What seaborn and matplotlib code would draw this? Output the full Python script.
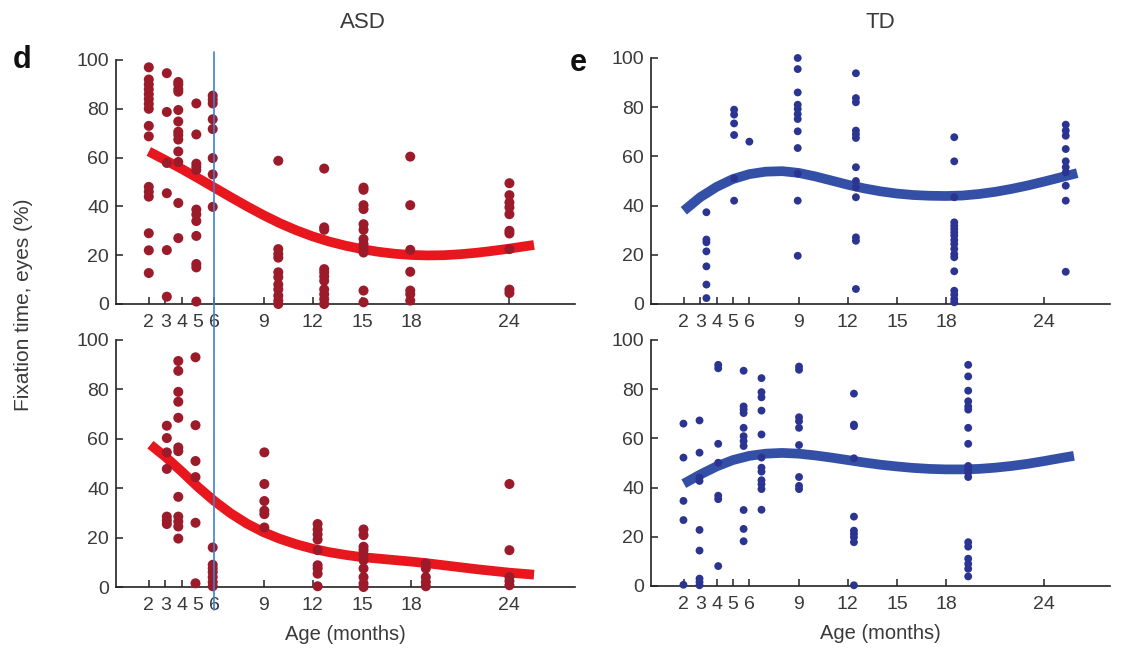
import numpy as np
import pandas as pd
import matplotlib
matplotlib.use("Agg")
import matplotlib.pyplot as plt
import seaborn as sns

# ---------------- data ----------------
xticks = [2, 3, 4, 5, 6, 9, 12, 15, 18, 24]

# ASD, top panel (d, upper)
asd_top_ages = [2.0, 3.1, 3.8, 4.9, 5.9, 9.9, 12.7, 15.1, 17.95, 24.0]
asd_top_vals = [
    [97, 92, 90, 88, 86, 84, 82, 80, 73, 68.7, 48, 46, 44, 29, 22, 12.7],
    [94.6, 78.7, 57.8, 45.4, 22.1, 3.0],
    [91, 90, 88, 87, 79.5, 74.8, 70.6, 69.3, 67.4, 62.5, 58.2, 41.4, 27],
    [82.2, 69.5, 57.5, 56.2, 54.9, 38.7, 36.7, 34, 27.9, 16.4, 15, 1],
    [85.4, 83.8, 82.2, 75.7, 71.7, 59.8, 53.1, 39.8],
    [58.7, 22.5, 20.5, 19, 13, 11, 8, 6, 3.4, 1.4, 0],
    [55.5, 31.4, 30.4, 14.3, 13, 11.3, 9.5, 6, 4, 2, 0],
    [47.7, 46.8, 40.5, 38.9, 32.7, 30.4, 26.6, 24.6, 22.8, 21.1, 5.5, 0.7],
    [60.4, 40.5, 22.2, 13.2, 5.5, 4, 1.4],
    [49.5, 44.6, 41.6, 39.6, 36.8, 30, 28.9, 22.5, 5.9, 4.5],
]
asd_top_curve_age = [2, 3, 4, 5, 6, 7, 8, 9, 10, 11, 12, 13, 14, 15, 16, 17,
                     18, 19, 20, 21, 22, 23, 24, 25.5]
asd_top_curve_val = [62.5, 59, 55.4, 51.6, 47.7, 43.8, 40, 36.4, 33.1, 30.2,
                     27.7, 25.6, 23.9, 22.5, 21.4, 20.6, 20.1, 19.9, 20.0,
                     20.4, 21.0, 21.8, 22.7, 24.2]

# ASD, bottom panel
asd_bot_ages = [3.1, 3.8, 4.85, 5.9, 9.05, 12.3, 15.1, 18.9, 24.0]
asd_bot_vals = [
    [65.3, 60.3, 54.5, 47.8, 28.5, 27, 25.5],
    [91.5, 87.5, 79, 75, 68.5, 56.5, 55, 36.5, 28.5, 26.5, 24.5, 19.6],
    [93, 65.5, 51, 44.5, 26, 1.5],
    [16, 9, 7.5, 6, 4, 2, 0.3],
    [54.5, 41.7, 34.8, 30.9, 29.5, 24.1],
    [25.5, 23.3, 21.3, 19.2, 14.9, 8.8, 7.5, 5.4, 0.3],
    [23.3, 21, 16.3, 14.9, 12.9, 10.8, 7.5, 4, 1.4, 0],
    [9.5, 7.5, 4, 2, 0.3],
    [41.7, 14.9, 4, 2.4, 0.7],
]
asd_bot_curve_age = [2.1, 3, 4, 5, 6, 7, 8, 9, 10, 11, 12, 13, 14, 15, 16, 17,
                     18, 19, 20, 21, 22, 23, 24, 25.5]
asd_bot_curve_val = [57.6, 52.8, 46.8, 40.5, 34.8, 29.8, 25.6, 22.2, 19.5,
                     17.3, 15.5, 14.1, 13.0, 12.1, 11.5, 10.9, 10.3, 9.6, 8.8,
                     8.0, 7.2, 6.5, 5.8, 5.0]

# TD, top panel (e, upper)
td_top_ages = [3.38, 5.07, 6.0, 8.95, 12.5, 18.5, 25.3]
td_top_vals = [
    [37.3, 26.2, 25.1, 21.4, 15.3, 7.9, 2.4],
    [79, 77, 73.4, 68.7, 51, 42],
    [66],
    [100, 95.5, 86, 81, 79.3, 77.2, 75.2, 70.2, 63.4, 53, 42, 19.6],
    [93.8, 83.7, 82, 70.5, 69, 67.5, 55.6, 50, 47.4, 43.4, 27.1, 25.7, 6.1],
    [67.8, 58, 43.4, 33.2, 31.8, 30.5, 29.1, 27.8, 26, 24.4, 22.4, 20.3, 19,
     13.3, 5.4, 3.8, 2, 0.7],
    [72.9, 70.5, 68.4, 63, 58, 55.6, 53.5, 48.1, 42, 13.1],
]
td_top_curve_age = [2, 3, 4, 5, 6, 7, 8, 9, 10, 11, 12, 13, 14, 15, 16, 17,
                    18, 19, 20, 21, 22, 23, 24, 25, 26]
td_top_curve_val = [37.9, 43.4, 47.6, 50.8, 52.8, 53.8, 54, 53.3, 51.9, 50.2,
                    48.5, 47.0, 45.8, 44.9, 44.3, 44.0, 43.9, 44.1, 44.7, 45.6,
                    46.8, 48.2, 49.8, 51.5, 53.2]

# TD, bottom panel
td_bot_ages = [1.98, 2.96, 4.1, 5.65, 6.74, 9.03, 12.38, 19.35]
td_bot_vals = [
    [66, 52.2, 34.6, 26.8, 0.5],
    [67.3, 54.2, 44.1, 42.7, 22.8, 14.4, 3, 1.6, 0.3],
    [89.9, 88.5, 57.8, 50.1, 36.7, 35.3, 8.1],
    [87.5, 73, 71.7, 70.3, 64.3, 60.9, 58.9, 56.9, 30.9, 23.2, 18.2],
    [84.5, 78.8, 76.7, 71.3, 61.6, 52.2, 48.1, 46.5, 43, 41.4, 39.4, 31],
    [89.2, 87.9, 68.6, 67, 64.3, 57.3, 44.3, 40.7, 39.4],
    [78.2, 65.6, 65, 51.9, 28.2, 22.5, 21.2, 19.8, 17.8, 0.3],
    [89.9, 85.2, 79.4, 75.1, 73, 71.7, 64.3, 57.8, 48.8, 47.4, 46.1, 44.3,
     17.8, 16, 11.1, 9, 7, 3.9],
]
td_bot_curve_age = [2, 3, 4, 5, 6, 7, 8, 9, 10, 11, 12, 13, 14, 15, 16, 17,
                    18, 19, 20, 21, 22, 23, 24, 25, 25.8]
td_bot_curve_val = [41.6, 45.3, 48.6, 51.2, 52.9, 53.8, 54.1, 53.8, 53.1, 52.2,
                    51.2, 50.2, 49.3, 48.6, 48.0, 47.6, 47.4, 47.4, 47.6, 48.1,
                    48.8, 49.7, 50.8, 52.0, 52.9]

# ---------------- styling ----------------
sns.set_theme(style="ticks")
plt.rcParams['font.family'] = ['Liberation Sans', 'DejaVu Sans']
TXT = '#3a3a3a'
ASD_DOT = '#9b1b2b'
ASD_LINE = '#e8161d'
TD_DOT = '#2b3490'
TD_LINE = '#3350a6'
VLINE = '#3f7fd0'

W, H = 1124, 657
fig = plt.figure(figsize=(W / 100, H / 100), dpi=100)


def px_axes(x0, x1, y_top, y_bot):
    return fig.add_axes([x0 / W, 1 - y_bot / H, (x1 - x0) / W, (y_bot - y_top) / H])


ax_tl = px_axes(116, 575, 60, 304)
ax_bl = px_axes(116, 575, 340, 587)
ax_tr = px_axes(651, 1110, 58, 304)
ax_br = px_axes(651, 1110, 340, 586)


def to_df(ages, vals):
    rows = [(a, v) for a, col in zip(ages, vals) for v in col]
    return pd.DataFrame(rows, columns=['age', 'val'])


def draw(ax, ages, vals, cage, cval, dot, line, size):
    sns.lineplot(x=cage, y=cval, ax=ax, color=line, lw=7, solid_capstyle='butt',
                 solid_joinstyle='round', zorder=2)
    df = to_df(ages, vals)
    sns.scatterplot(data=df, x='age', y='val', ax=ax, color=dot, s=size,
                    edgecolor='none', linewidth=0, zorder=3, clip_on=False)
    ax.set_xlim(0, 28)
    ax.set_ylim(0, 100)
    ax.set_xticks(xticks)
    ax.set_xticklabels([str(t) for t in xticks])
    ax.set_yticks([0, 20, 40, 60, 80, 100])
    ax.tick_params(direction='in', length=5, width=1.1, colors='#222222',
                   labelcolor=TXT, labelsize=14, pad=7)
    ax.tick_params(axis='y', pad=5)
    for s in ['top', 'right']:
        ax.spines[s].set_visible(False)
    for s in ['left', 'bottom']:
        ax.spines[s].set_linewidth(1.2)
        ax.spines[s].set_color('#222222')
    ax.set_xlabel('')
    ax.set_ylabel('')
    ax.set_facecolor('white')


draw(ax_tl, asd_top_ages, asd_top_vals, asd_top_curve_age, asd_top_curve_val,
     ASD_DOT, ASD_LINE, 52)
draw(ax_bl, asd_bot_ages, asd_bot_vals, asd_bot_curve_age, asd_bot_curve_val,
     ASD_DOT, ASD_LINE, 52)
draw(ax_tr, td_top_ages, td_top_vals, td_top_curve_age, td_top_curve_val,
     TD_DOT, TD_LINE, 32)
draw(ax_br, td_bot_ages, td_bot_vals, td_bot_curve_age, td_bot_curve_val,
     TD_DOT, TD_LINE, 32)

for ax in (ax_bl, ax_br):
    ax.set_xlabel('Age (months)', fontsize=14.5, color=TXT, labelpad=8)

# blue reference line at 6 months across both ASD panels
ax_tl.axvline(6, ymin=0, ymax=(304 - 52) / 244, color=VLINE, lw=1.2,
              clip_on=False, zorder=5)
ax_bl.axvline(6, ymin=(587 - 610) / 247, ymax=(587 - 304) / 247, color=VLINE,
              lw=1.2, clip_on=False, zorder=5)

# titles and labels
fig.text(363 / W, 1 - 22 / H, 'ASD', ha='center', va='center', fontsize=16,
         color=TXT)
fig.text(880 / W, 1 - 22 / H, 'TD', ha='center', va='center', fontsize=16,
         color=TXT)
fig.text(22 / W, 1 - 60 / H, 'd', ha='center', va='center', fontsize=22,
         fontweight='bold', color='#111111')
fig.text(578 / W, 1 - 63 / H, 'e', ha='center', va='center', fontsize=22,
         fontweight='bold', color='#111111')
fig.text(24 / W, 1 - 305 / H, 'Fixation time, eyes (%)', ha='center',
         va='center', rotation=90, fontsize=15, color=TXT)

fig.savefig('out.png', dpi=100, facecolor='white')
